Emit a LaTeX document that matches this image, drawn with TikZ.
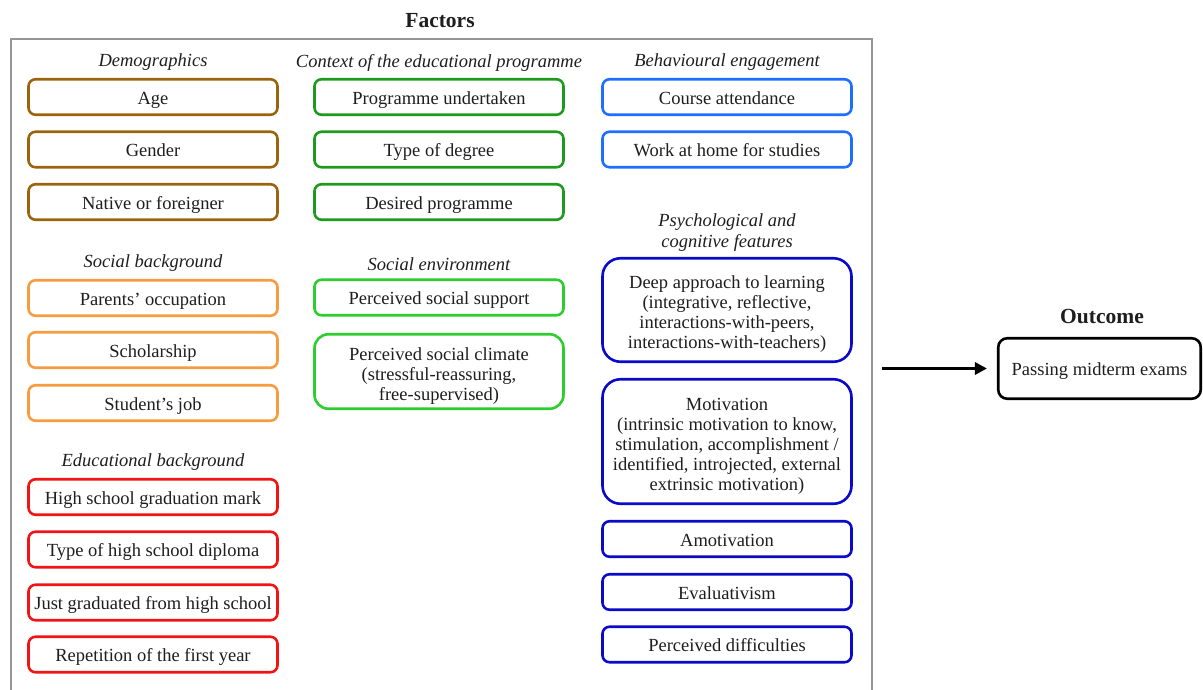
\documentclass[tikz,border=0pt]{standalone}
\usepackage{fontspec}
\setmainfont{Liberation Serif}
\usetikzlibrary{arrows.meta}
\definecolor{cbrown}{RGB}{155,100,12}
\definecolor{corange}{RGB}{246,156,62}
\definecolor{cred}{RGB}{240,20,20}
\definecolor{cdgreen}{RGB}{30,155,30}
\definecolor{clgreen}{RGB}{45,205,45}
\definecolor{clblue}{RGB}{30,110,255}
\definecolor{cdblue}{RGB}{10,10,200}
\definecolor{ctext}{RGB}{30,30,30}
\definecolor{cframe}{RGB}{150,150,150}
\newcommand{\fstrut}{\rule{0pt}{21pt}}
\tikzset{
  basebox/.style={draw, rounded corners=7pt, line width=2.6pt, minimum width=249pt, minimum height=35.5pt, align=center, inner sep=0pt, text=ctext, font=\fontsize{18.5}{20}\selectfont},
  fbox/.style={basebox, text height=17.5pt, text depth=3pt},
  bigbox/.style={basebox, rounded corners=18pt},
  grp/.style={font=\fontsize{18.5}{21.5}\selectfont\itshape, text=ctext, align=center, inner sep=0pt},
  ttl/.style={font=\fontsize{21.5}{24}\selectfont\bfseries, text=ctext, inner sep=0pt},
}
\begin{document}
\begin{tikzpicture}[x=1pt,y=-1pt]
\clip (0,0) rectangle (1203,689);
\fill[white] (0,0) rectangle (1203,689);
% frame
\node[draw=cframe, line width=1.8pt, minimum width=861pt, minimum height=660pt, inner sep=0pt, anchor=north west] (frame) at (10,38) {};
\node[ttl] (factors) at (440,21) {Factors};
% column 1
\node[grp] (demo) at (153,62.5) {Demographics};
\node[fbox, draw=cbrown] (age) at (153,97) {Age};
\node[fbox, draw=cbrown] (gender) at (153,149.5) {Gender};
\node[fbox, draw=cbrown] (native) at (153,202) {Native or foreigner};
\node[grp] (socbg) at (153,263.5) {Social background};
\node[fbox, draw=corange] (parents) at (153,298) {Parents’ occupation};
\node[fbox, draw=corange] (schol) at (153,350) {Scholarship};
\node[fbox, draw=corange] (job) at (153,403) {Student’s job};
\node[grp] (edubg) at (153,462.5) {Educational background};
\node[fbox, draw=cred] (mark) at (153,497) {High school graduation mark};
\node[fbox, draw=cred] (diploma) at (153,549.5) {Type of high school diploma};
\node[fbox, draw=cred] (just) at (153,602.5) {Just graduated from high school};
\node[fbox, draw=cred] (rep) at (153,654.5) {Repetition of the first year};
% column 2
\node[grp] (context) at (439,62.5) {Context of the educational programme};
\node[fbox, draw=cdgreen] (prog) at (439,97) {Programme undertaken};
\node[fbox, draw=cdgreen] (degree) at (439,149.5) {Type of degree};
\node[fbox, draw=cdgreen] (desired) at (439,202) {Desired programme};
\node[grp] (socenv) at (439,264.5) {Social environment};
\node[fbox, draw=clgreen] (support) at (439,297.5) {Perceived social support};
\node[bigbox, draw=clgreen, minimum height=74.5pt, rounded corners=14pt] (climate) at (439,371.5) {\fstrut Perceived social climate\\(stressful-reassuring,\\free-supervised)};
% column 3
\node[grp] (behav) at (727,62.5) {Behavioural engagement};
\node[fbox, draw=clblue] (attend) at (727,97) {Course attendance};
\node[fbox, draw=clblue] (home) at (727,149.5) {Work at home for studies};
\node[grp] (psych) at (727,232.5) {Psychological and\\cognitive features};
\node[bigbox, draw=cdblue, minimum height=103.5pt] (deep) at (727,310) {\fstrut Deep approach to learning\\(integrative, reflective,\\interactions-with-peers,\\interactions-with-teachers)};
\node[bigbox, draw=cdblue, minimum height=124.5pt] (motiv) at (727,441.5) {\fstrut Motivation\\(intrinsic motivation to know,\\stimulation, accomplishment /\\identified, introjected, external\\extrinsic motivation)};
\node[fbox, draw=cdblue] (amot) at (727,539) {Amotivation};
\node[fbox, draw=cdblue] (eval) at (727,592) {Evaluativism};
\node[fbox, draw=cdblue] (diff) at (727,644.5) {Perceived difficulties};
% outcome
\node[ttl] (outcome) at (1102,317) {Outcome};
\node[fbox, draw=black, rounded corners=9pt, minimum width=202.5pt, minimum height=60.5pt] (pass) at (1099.5,368.5) {Passing midterm exams};
\coordinate (astart) at (882,368.5);
\draw[line width=3pt, -{Triangle[length=12pt,width=12pt]}, shorten >=10pt] (astart) -- (pass.west);
\end{tikzpicture}
\end{document}
